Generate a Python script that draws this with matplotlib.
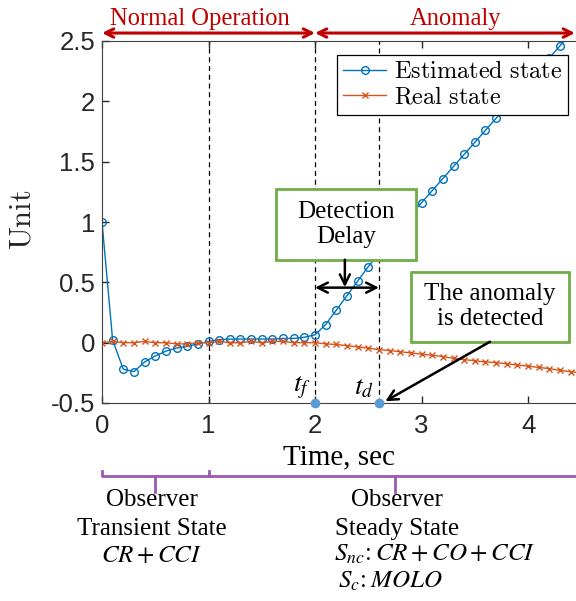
import numpy as np
import matplotlib.pyplot as plt
from matplotlib.patches import Rectangle
from matplotlib.font_manager import FontProperties

plt.rcParams['font.family'] = 'Liberation Sans'
serif = 'Liberation Serif'

# sample times (every 0.1 s)
t = np.linspace(0, 4.5, 46)

est_state = [1.00, 0.02, -0.22, -0.24, -0.16, -0.11, -0.07, -0.045, -0.03, -0.01,
             0.01, 0.025, 0.03, 0.03, 0.03, 0.03, 0.03, 0.035, 0.035, 0.045,
             0.065, 0.15, 0.27, 0.39, 0.51, 0.63, 0.74, 0.85, 0.95, 1.06,
             1.16, 1.26, 1.36, 1.46, 1.56, 1.66, 1.76, 1.86, 1.96, 2.06,
             2.16, 2.26, 2.36, 2.46, 2.56, 2.66]

real_state = [0.0, 0.01, 0.0, 0.0, 0.01, 0.0, 0.0, -0.01, -0.01, 0.0,
              0.0, 0.01, 0.0, 0.0, 0.01, 0.0, 0.01, 0.01, 0.0, 0.0,
              0.0, -0.01, -0.015, -0.025, -0.035, -0.045, -0.058, -0.065, -0.075, -0.085,
              -0.095, -0.105, -0.115, -0.13, -0.14, -0.15, -0.16, -0.165, -0.175, -0.185,
              -0.195, -0.205, -0.215, -0.23, -0.24, -0.25]

events = [1.0, 2.0, 2.6]      # end of transient, fault time t_f, detection time t_d
t_f, t_d = 2.0, 2.6
yticks = [-0.5, 0, 0.5, 1, 1.5, 2, 2.5]
ytick_labels = ['-0.5', '0', '0.5', '1', '1.5', '2', '2.5']
xticks = [0, 1, 2, 3, 4]

red = '#C00000'
green = '#70AD47'
purple = '#9E5AB3'

fig = plt.figure(figsize=(5.76, 6.01), dpi=100)
ax = fig.add_axes([102/576, 1-403/601, 474/576, 362/601])

ax.plot(t, est_state, '-o', color='#0072BD', lw=1, ms=5.5, mfc='none', mew=1,
        label=r'$\mathrm{Estimated\ state}$')
ax.plot(t, real_state, '-x', color='#D95319', lw=1, ms=5, mew=1,
        label=r'$\mathrm{Real\ state}$')

for xv in events:
    ax.axvline(xv, color='k', ls=(0, (4, 3)), lw=0.9, zorder=1)

ax.plot([t_f, t_d], [-0.5, -0.5], 'o', color='#5B9BD5', ms=6, clip_on=False, zorder=6)

ax.set_xlim(0, 4.45)
ax.set_ylim(-0.5, 2.5)
ax.set_xticks(xticks)
ax.set_yticks(yticks)
ax.set_yticklabels(ytick_labels)
ax.tick_params(direction='in', top=True, right=False, length=5, width=1,
               labelsize=18.5, colors='#262626')
ax.tick_params(axis='y', pad=5)
ax.tick_params(axis='x', pad=8)
ax.spines['right'].set_visible(False)
for s in ['left', 'bottom', 'top']:
    ax.spines[s].set_color('#404040')

ax.set_xlabel('Time, sec', fontsize=21, family=serif, color='k')
ax.xaxis.label.set_va('center')
ax.xaxis.set_label_coords(0.5, -0.149)
ax.set_ylabel(r'$\mathrm{Unit}$', fontsize=22, math_fontfamily='cm', color='#262626')
ax.yaxis.label.set_va('center')
ax.yaxis.set_label_coords(-0.168, 0.506)

leg = ax.legend(loc='upper right', bbox_to_anchor=(0.983, 0.961), borderaxespad=0,
                fancybox=False, edgecolor='k', framealpha=1, handlelength=1.8,
                handletextpad=0.3, borderpad=0.25, labelspacing=0.15,
                prop=FontProperties(size=17.5, math_fontfamily='cm'))
leg.get_frame().set_linewidth(0.9)

# region arrows on top
trans = ax.get_xaxis_transform()
for a, b in [(0, 2), (2, 4.44)]:
    ax.annotate('', xy=(a, 1.022), xytext=(b, 1.022), xycoords=trans, textcoords=trans,
                arrowprops=dict(arrowstyle='<->', color=red, lw=2.2, shrinkA=0, shrinkB=0,
                                mutation_scale=15), annotation_clip=False)
ax.text(0.92, 1.062, 'Normal Operation', transform=trans, ha='center', va='center',
        color=red, fontsize=17.7, family=serif)
ax.text(3.32, 1.062, 'Anomaly', transform=trans, ha='center', va='center',
        color=red, fontsize=17.7, family=serif)

# detection delay box
ax.add_patch(Rectangle((1.634, 0.688), 1.314, 0.588, facecolor='white',
                       edgecolor=green, lw=2, zorder=7))
ax.text(2.29, 0.98, 'Detection\nDelay', ha='center', va='center', fontsize=18,
        family=serif, linespacing=1.2, zorder=8)
ax.annotate('', xy=(2.28, 0.46), xytext=(2.28, 0.688),
            arrowprops=dict(arrowstyle='->', color='k', lw=1.8, shrinkA=0, shrinkB=0,
                            mutation_scale=18), zorder=8)
ax.annotate('', xy=(t_f, 0.456), xytext=(t_d, 0.456),
            arrowprops=dict(arrowstyle='<->', color='k', lw=1.8, shrinkA=0, shrinkB=0,
                            mutation_scale=18), zorder=8)

# anomaly detected box
ax.add_patch(Rectangle((2.901, 0.008), 1.484, 0.58, facecolor='white',
                       edgecolor=green, lw=2, zorder=7))
ax.text(3.643, 0.298, 'The anomaly\nis detected', ha='center', va='center', fontsize=18,
        family=serif, linespacing=1.2, zorder=8)
ax.annotate('', xy=(2.66, -0.485), xytext=(3.643, 0.008),
            arrowprops=dict(arrowstyle='->', color='k', lw=1.8, shrinkA=0, shrinkB=0,
                            mutation_scale=18), zorder=8)

ax.text(1.88, -0.37, r'$t_f$', ha='center', va='center', fontsize=20, math_fontfamily='stix')
ax.text(2.46, -0.37, r'$t_d$', ha='center', va='center', fontsize=20, math_fontfamily='stix')

# observer brackets below the axis
yb, ye, ym = -0.2017, -0.188, -0.246
ax.plot([0, 0, 1, 1], [ye, yb, yb, ye], color=purple, lw=2, transform=trans, clip_on=False)
ax.plot([1, 4.6], [yb, yb], color=purple, lw=2, transform=trans, clip_on=False)
ax.plot([0.5, 0.5], [yb, ym], color=purple, lw=2, transform=trans, clip_on=False)
ax.plot([2.75, 2.75], [yb, ym], color=purple, lw=2, transform=trans, clip_on=False)

kw = dict(transform=trans, ha='center', va='center', fontsize=18, clip_on=False)
ax.text(0.47, -0.268, 'Observer', family=serif, **kw)
ax.text(0.47, -0.348, 'Transient State', family=serif, **kw)
ax.text(0.47, -0.420, r'$CR+CCI$', math_fontfamily='stix', **kw)
ax.text(2.77, -0.268, 'Observer', family=serif, **kw)
ax.text(2.77, -0.348, 'Steady State', family=serif, **kw)
ax.text(3.12, -0.418, r'$S_{nc}\!:CR+CO+CCI$', math_fontfamily='stix', **kw)
ax.text(2.71, -0.492, r'$S_c\!:MOLO$', math_fontfamily='stix', **kw)

fig.savefig('out.png', dpi=100)
